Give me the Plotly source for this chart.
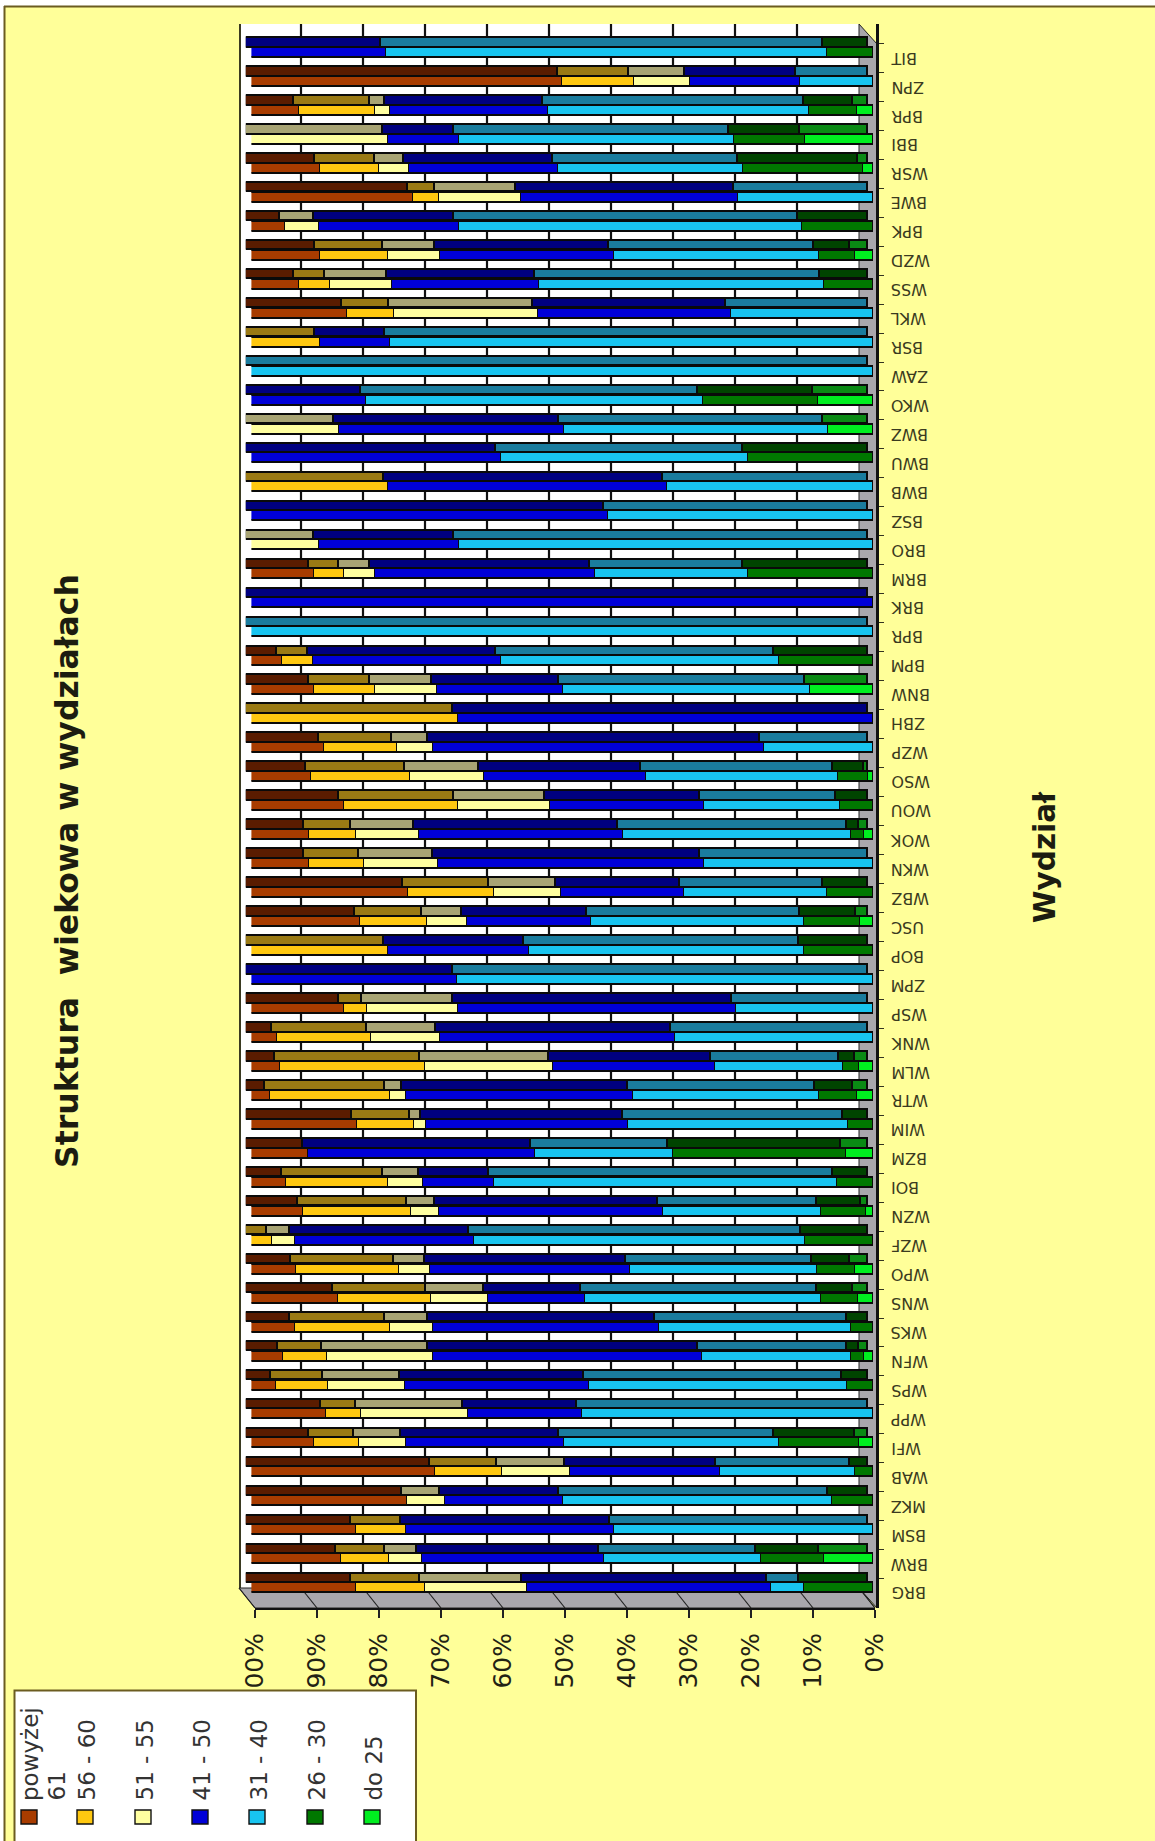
import plotly.graph_objects as go

W, H = 1155, 1841

# Listed from the top row of the picture to the bottom row
categories = ["BIT","ZPN","BPR","BBI","WSR","BWE","BPK","WZD","WSS","WKL","BSR","ZAW","WKO","BWZ","BWU","BWB","BSZ","BRO",
              "BRM","BRK","BPR","BPM","BNW","ZBH","WZP","WSO","WOU","WOK","WKN","WBZ","USC","BOP","ZPM","WSP","WNK","WLM",
              "WTR","WIM","BZM","BOI","WZN","WZF","WPO","WNS","WKS","WFN","WPS","WPP","WFI","WAB","MKZ","BSM","BRW","BRG"]
over61 = [0,50.1,7.7,0,11.1,26,5.5,11.1,7.7,15.4,0,0,0,0,0,0,0,0,
          10.2,0,0,5,10.2,0,11.8,9.7,14.9,9.3,9.3,25.3,17.5,0,0,14.9,4.2,4.7,
          3,17,9.1,5.7,8.4,0,7.3,14,7,5.2,4.1,12,10.1,29.6,25.1,16.8,14.5,16.8]
a56_60 = [0,11.5,12.2,0,9.6,4.3,0,11,5,7.6,11.1,0,0,0,0,22.1,0,0,
          4.7,0,0,5,9.7,33.3,11.6,15.8,18.5,7.6,8.9,13.8,10.8,22.1,0,3.7,15.2,23.3,
          19.3,9.3,0,16.3,17.4,3.4,16.5,14.9,15.3,7,8.3,5.7,7.3,10.8,0,8.1,7.8,11.1]
a51_55 = [0,9,2.4,22,4.7,13.1,5.4,8.3,10,23.1,0,0,0,14.2,0,0,0,10.9,
          5,0,0,0,10.1,0,5.9,12,14.7,10.1,11.9,10.8,6.5,0,0,14.7,11.1,20.7,
          2.7,1.8,0,5.7,4.5,3.7,5,9.3,7,17.1,12.4,17.2,7.5,10.9,6,0,5.2,16.4]
a41_50 = [21.7,17.8,25.4,11.5,24.1,35,22.6,28,23.7,31,11.3,0,18.5,36.1,40.2,44.9,57.5,22.6,
          35.4,100,0,30.2,20.3,66.7,53.2,26,24.9,32.8,42.8,19.8,20,22.6,33.2,44.8,37.8,26.1,
          36.4,32.5,36.6,11.3,35.9,28.8,32.2,15.6,36.4,43.3,29.6,18.3,25.4,24.3,19.1,33.5,29.3,39.3]
a31_40 = [71,11.6,42,44.2,29.8,21.6,55.2,33,45.8,22.8,77.6,100,54.2,42.5,39.7,33,42.5,66.5,
          24.6,0,100,44.8,39.7,0,17.4,30.9,21.9,36.8,27.1,23,34.3,44.2,66.8,21.9,31.8,20.6,
          30,35.4,22.1,55.2,25.5,53.3,30,37.9,30.9,24,41.5,46.7,34.6,21.6,43.2,41.5,25.3,5.2]
a26_30 = [7.3,0,7.8,11.4,19.3,0,11.3,5.8,7.8,0,0,0,18.5,0,20.1,0,0,0,
          20.1,0,0,15.1,0,0,0,4.9,5.2,2,0,7.3,9,11.1,0,0,0,2.5,
          6.1,4,27.8,5.7,7.2,10.8,6.1,5.9,3.4,2,4.2,0,12.9,2.9,6.5,0,10.1,11.1]
do25 = [0,0,2.5,10.9,1.6,0,0,2.9,0,0,0,0,8.8,7.2,0,0,0,0,
        0,0,0,0,10.1,0,0,0.7,0,1.4,0,0,2,0,0,0,0,2.2,
        2.5,0,4.3,0,1.1,0,2.9,2.4,0,1.4,0,0,2.2,0,0,0,7.9,0]

series_names = ["powyżej<br>61", "56 - 60", "51 - 55", "41 - 50", "31 - 40", "26 - 30", "do 25"]
series_values = [over61, a56_60, a51_55, a41_50, a31_40, a26_30, do25]
front_colors = ["#A83C00", "#FFC810", "#FFFFA0", "#0000D8", "#18C4F0", "#007800", "#00EE20"]
top_colors = ["#5A1C00", "#9A7A14", "#A8A474", "#000080", "#1A7C9E", "#004400", "#0A8A14"]
pct_ticks = [0, 10, 20, 30, 40, 50, 60, 70, 80, 90, 100]
pct_labels = [f"{p}%" for p in pct_ticks]

PAPER = "#FFFF99"
OLIVE = "#6B5C20"
FLOOR = "#A9A7AC"

# Pixel geometry of the picture
ROW = 28.97
ROW0 = 1588.3
WALL_L, WALL_R, WALL_T, WALL_B = 239, 859, 24, 1588
FRONT_L, FRONT_R, FRONT_B = 255, 877, 1608


def fx(p):
    return p / W


def fy(p):
    return 1 - p / H


def row_of(py):
    return (ROW0 - py) / ROW


n = len(categories)
rows = [n - 1 - k for k in range(n)]
TOP_OFF = 10.0 / ROW

fig = go.Figure()

# the tick axis carries no bars, so it gets one empty trace
fig.add_trace(go.Bar(x=[None], y=[None], xaxis="x", yaxis="y", showlegend=False, hoverinfo="skip"))

# gridlines of the back wall
grid_x, grid_y = [], []
for p in pct_ticks[1:-1]:
    grid_x += [p, p, None]
    grid_y += [row_of(WALL_B), row_of(WALL_T), None]
fig.add_trace(go.Scatter(x=grid_x, y=grid_y, mode="lines", xaxis="x2", yaxis="y",
                         line=dict(color="#111111", width=2.2), showlegend=False, hoverinfo="skip"))

order = list(range(len(series_names)))[::-1]
for s in order:
    vals = [v if v > 0 else None for v in series_values[s]]
    label = series_names[s].replace("<br>", " ")
    fig.add_trace(go.Bar(
        x=vals, y=[r + TOP_OFF for r in rows], orientation="h", xaxis="x4", yaxis="y",
        width=9.5 / ROW, marker=dict(color=top_colors[s], line=dict(color="#0A0A0A", width=1.8)),
        name=label, showlegend=False, hoverinfo="skip"))
for s in order:
    vals = [v if v > 0 else None for v in series_values[s]]
    label = series_names[s].replace("<br>", " ")
    fig.add_trace(go.Bar(
        x=vals, y=rows, orientation="h", xaxis="x3", yaxis="y",
        width=10.0 / ROW, marker=dict(color=front_colors[s], line=dict(color="#0A0A0A", width=1.8)),
        name=label, showlegend=False))

shapes = [
    # page
    dict(type="rect", xref="paper", yref="paper", x0=fx(4), x1=1, y0=0, y1=fy(6), fillcolor=PAPER, line_width=0, layer="below"),
    dict(type="line", xref="paper", yref="paper", x0=fx(4), x1=1, y0=fy(6.5), y1=fy(6.5), line=dict(color=OLIVE, width=2), layer="below"),
    dict(type="line", xref="paper", yref="paper", x0=fx(4.5), x1=fx(4.5), y0=0, y1=fy(6), line=dict(color=OLIVE, width=2), layer="below"),
    # back wall
    dict(type="rect", xref="paper", yref="paper", x0=fx(WALL_L), x1=fx(WALL_R), y0=fy(WALL_B), y1=fy(WALL_T), fillcolor="#FFFFFF", line_width=0, layer="below"),
    dict(type="line", xref="paper", yref="paper", x0=fx(WALL_L + 1), x1=fx(WALL_L + 1), y0=fy(WALL_B), y1=fy(WALL_T), line=dict(color="#3A3A20", width=2), layer="below"),
    # side wall and floor
    dict(type="path", xref="paper", yref="paper",
         path=f"M {fx(WALL_R)} {fy(WALL_T)} L {fx(FRONT_R)} {fy(44)} L {fx(FRONT_R)} {fy(FRONT_B)} L {fx(WALL_R)} {fy(WALL_B)} Z",
         fillcolor=FLOOR, line=dict(color="#222222", width=1), layer="below"),
    dict(type="path", xref="paper", yref="paper",
         path=f"M {fx(WALL_L)} {fy(WALL_B)} L {fx(WALL_R)} {fy(WALL_B)} L {fx(FRONT_R - 2)} {fy(FRONT_B)} L {fx(FRONT_L)} {fy(FRONT_B)} Z",
         fillcolor=FLOOR, line=dict(color="#222222", width=1), layer="below"),
]
for p in pct_ticks:
    a = WALL_R - (WALL_R - WALL_L) * p / 100
    b = FRONT_R - 2 - (FRONT_R - 2 - FRONT_L) * p / 100
    shapes.append(dict(type="line", xref="paper", yref="paper", x0=fx(a), x1=fx(b), y0=fy(WALL_B), y1=fy(FRONT_B),
                       line=dict(color="#222222", width=1.2), layer="below"))

# legend box covers the end of the 100% label, as in the picture
LEG_X = [29, 85, 143, 200, 257, 315, 372]
shapes.append(dict(type="rect", xref="paper", yref="paper", x0=fx(14.5), x1=fx(416), y0=fy(1845), y1=fy(1690.5),
                   fillcolor="#FFFFFF", line=dict(color=OLIVE, width=2), layer="above"))
annotations = []
for i, name in enumerate(series_names):
    shapes.append(dict(type="rect", xref="paper", yref="paper", x0=fx(LEG_X[i] - 8), x1=fx(LEG_X[i] + 8),
                       y0=fy(1824), y1=fy(1810), fillcolor=front_colors[i], line=dict(color="#111111", width=1.4), layer="above"))
    for j, line in enumerate(name.split("<br>")):
        annotations.append(dict(xref="paper", yref="paper", x=fx(LEG_X[i] + 1 + j * 26), y=fy(1803), text=line,
                                textangle=-90, showarrow=False, xanchor="center", yanchor="bottom",
                                font=dict(family="DejaVu Sans", size=23, color="#333333")))

annotations.append(dict(xref="paper", yref="paper", x=fx(67), y=fy(871), text="Struktura  wiekowa w wydziałach",
                        textangle=-90, showarrow=False, xanchor="center", yanchor="middle",
                        font=dict(family="DejaVu Sans", size=31.5, color="#1C1C10", weight="bold")))
annotations.append(dict(xref="paper", yref="paper", x=fx(1045), y=fy(857), text="Wydział",
                        textangle=-90, showarrow=False, xanchor="center", yanchor="middle",
                        font=dict(family="DejaVu Sans", size=29.5, color="#1C1C10", weight="bold")))
for k, c in enumerate(categories):
    annotations.append(dict(xref="paper", yref="y", x=fx(889), y=rows[k] - 0.17, text=c, textangle=180, showarrow=False,
                            xanchor="left", yanchor="middle", font=dict(family="DejaVu Sans", size=16, color="#3A3A20")))

hidden = dict(visible=False, range=[100, 0], fixedrange=True)
fig.update_layout(
    width=W, height=H, autosize=False, margin=dict(l=0, r=0, t=0, b=0, pad=0, autoexpand=False),
    paper_bgcolor="#FFFFFF", plot_bgcolor="rgba(0,0,0,0)", showlegend=False,
    barmode="stack", barnorm="percent", bargap=0,
    shapes=shapes, annotations=annotations,
    xaxis=dict(domain=[fx(FRONT_L), fx(FRONT_R - 2)], range=[100, 0], anchor="y", showgrid=False, zeroline=False,
               tickmode="array", tickvals=pct_ticks, ticktext=pct_labels, tickangle=-90, ticks="outside", ticklen=8,
               tickcolor="#222222", tickwidth=1.5, ticklabelstandoff=5, showline=True, linecolor="#111111", linewidth=2,
               tickfont=dict(family="DejaVu Sans", size=25, color="#222214")),
    xaxis2=dict(hidden, domain=[fx(WALL_L), fx(WALL_R)], anchor="y"),
    xaxis3=dict(hidden, domain=[fx(251.4), fx(873)], anchor="y"),
    xaxis4=dict(hidden, domain=[fx(245.8), fx(868)], anchor="y"),
    yaxis=dict(domain=[fy(FRONT_B), fy(WALL_T)], range=[row_of(FRONT_B), row_of(WALL_T)], anchor="free", position=fx(FRONT_R),
               side="right", showgrid=False, zeroline=False, showline=True, linecolor="#111111", linewidth=2.5,
               showticklabels=False, ticks="",
               minor=dict(tickmode="array", tickvals=[r + 0.33 for r in rows], ticks="outside", ticklen=5, tickcolor="#333320", tickwidth=1)),
)

fig.write_html("out.html", config={"displayModeBar": False},
               post_script="document.body.style.margin='0';document.body.style.overflow='hidden';")
